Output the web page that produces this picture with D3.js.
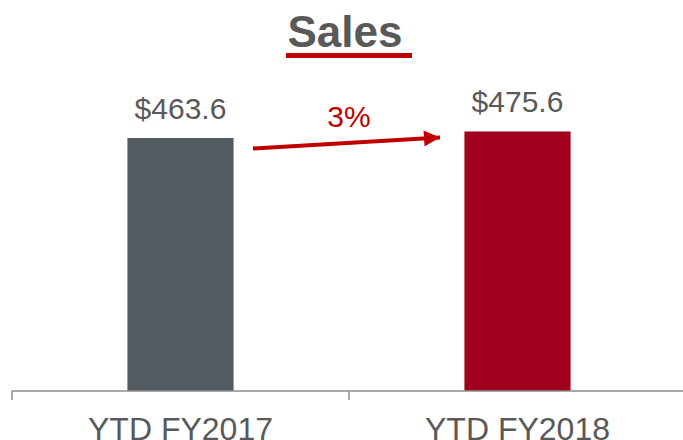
<!DOCTYPE html>
<html><head><meta charset="utf-8">
<script src="https://cdn.jsdelivr.net/npm/d3@7"></script>
<style>body{margin:0;background:#fff}svg{display:block}</style>
</head><body>
<svg id="c" width="683" height="440"></svg>
<script>
const categories = ["YTD FY2017", "YTD FY2018"];
const values = [463.6, 475.6];
const valueLabels = ["$463.6", "$475.6"];
const barColors = ["#525a62", "#a0001e"];
const title = "Sales";
const growthLabel = "3%";

const svg = d3.select("#c");
const font = "'Liberation Sans', Arial, sans-serif";
const textColor = "#595959";
const red = "#c00000";

const x = d3.scaleBand().domain(categories).range([12, 686]).paddingInner(0.685).paddingOuter(0.3425);
const y = d3.scaleLinear().domain([0, 716.5]).range([391, 0]);

// title
svg.append("text").attr("x", 345).attr("y", 47).attr("text-anchor", "middle")
  .attr("font-family", font).attr("font-weight", "bold").attr("font-size", 44)
  .attr("fill", textColor).text(title);
svg.append("rect").attr("x", 286).attr("y", 53).attr("width", 126).attr("height", 5).attr("fill", red);

// bars
svg.selectAll("rect.bar").data(categories).join("rect").attr("class", "bar")
  .attr("x", d => x(d)).attr("width", x.bandwidth())
  .attr("y", (d, i) => y(values[i])).attr("height", (d, i) => y(0) - y(values[i]))
  .attr("fill", (d, i) => barColors[i]);

// value labels
svg.selectAll("text.val").data(categories).join("text").attr("class", "val")
  .attr("x", d => x(d) + x.bandwidth() / 2).attr("y", (d, i) => y(values[i]) - 19)
  .attr("text-anchor", "middle").attr("font-family", font).attr("font-size", 30)
  .attr("fill", textColor).text((d, i) => valueLabels[i]);

// axis
const step = x.step();
const axisG = svg.append("g");
axisG.append("line").attr("x1", 12).attr("x2", 686).attr("y1", y(0)).attr("y2", y(0))
  .attr("stroke", "#8c8c8c").attr("stroke-width", 1.5);
const bounds = [x(categories[0]) - step * x.paddingInner() / 2, ...categories.map(c => x(c) + x.bandwidth() + step * x.paddingInner() / 2)];
axisG.selectAll("line.tick").data(bounds).join("line").attr("class", "tick")
  .attr("x1", d => d).attr("x2", d => d).attr("y1", y(0)).attr("y2", y(0) + 9)
  .attr("stroke", "#8c8c8c").attr("stroke-width", 1.5);
axisG.selectAll("text.cat").data(categories).join("text").attr("class", "cat")
  .attr("x", d => x(d) + x.bandwidth() / 2).attr("y", 440)
  .attr("text-anchor", "middle").attr("font-family", font).attr("font-size", 32)
  .attr("fill", textColor).text(d => d);

// growth arrow
const defs = svg.append("defs");
defs.append("marker").attr("id", "ah").attr("viewBox", "0 0 10 10").attr("refX", 10).attr("refY", 5)
  .attr("markerWidth", 4.5).attr("markerHeight", 4).attr("orient", "auto").attr("markerUnits", "strokeWidth")
  .append("path").attr("d", "M0,0 L10,5 L0,10 Z").attr("fill", red);
svg.append("line").attr("x1", 253).attr("y1", 148.5).attr("x2", 440).attr("y2", 137.5)
  .attr("stroke", red).attr("stroke-width", 4).attr("marker-end", "url(#ah)");
svg.append("text").attr("x", 349).attr("y", 127).attr("text-anchor", "middle")
  .attr("font-family", font).attr("font-size", 30).attr("fill", red).text(growthLabel);
</script>
</body></html>
